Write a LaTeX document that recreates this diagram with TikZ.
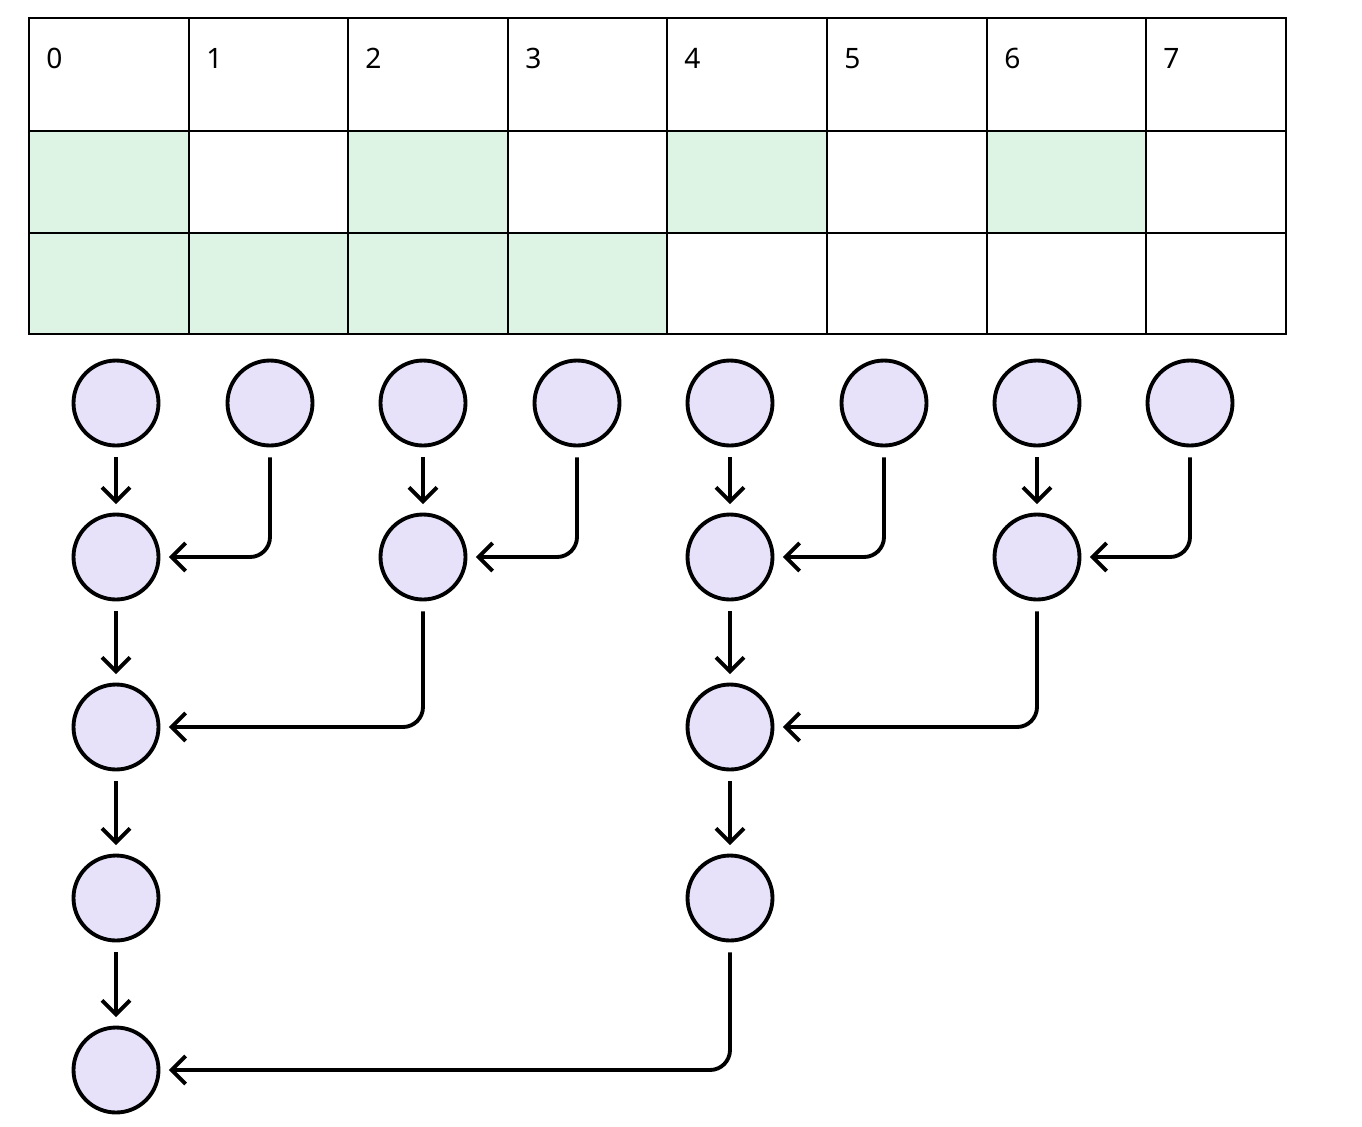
\documentclass[tikz,border=0pt]{standalone}
\usepackage{fontspec}
\setmainfont{Noto Sans}
\usetikzlibrary{arrows.meta}

\definecolor{cellgreen}{HTML}{DDF3E4}
\definecolor{nodepurple}{HTML}{E7E2FA}

\begin{document}
\begin{tikzpicture}[x=0.02cm,y=-0.02cm]
		\tikzstyle{vert}=[draw,shape=circle,fill=nodepurple,line width=2.2pt,minimum size=1.7cm,inner sep=0pt];
		\tikzstyle{link}=[line width=2.2pt,-{Straight Barb[length=0.28cm,width=0.56cm]},shorten <=0.2cm,shorten >=0.17cm,rounded corners=0.4cm];
		\tikzstyle{idx}=[anchor=base west,inner sep=0pt,font=\fontsize{16}{16}\selectfont];
		\useasboundingbox (0,0) rectangle (1362,1126);
		% occupied cells
		\foreach \xa/\xb in {29/189,348/508,667/827,987/1146}
			\fill[cellgreen] (\xa,131) rectangle (\xb,233);
		\fill[cellgreen] (29,233) rectangle (667,334);
		% table
		\draw[line width=1.3pt] (29,18) rectangle (1286,334);
		\draw[line width=1.3pt] (29,131) -- (1286,131)
		(29,233) -- (1286,233);
		\foreach \x in {189,348,508,667,827,987,1146}
			\draw[line width=1.3pt] (\x,18) -- (\x,334);
		\foreach \x/\n in {29/0,189/1,348/2,508/3,667/4,827/5,987/6,1146/7}
			\path (\x+17,68) node[idx] (l\n) {\n};
		% first level
		\path (116,403)  node[vert] (a1) {};
		\path (270,403)  node[vert] (a2) {};
		\path (423,403)  node[vert] (a3) {};
		\path (577,403)  node[vert] (a4) {};
		\path (730,403)  node[vert] (a5) {};
		\path (884,403)  node[vert] (a6) {};
		\path (1037,403) node[vert] (a7) {};
		\path (1190,403) node[vert] (a8) {};
		% merged levels
		\path (116,557)  node[vert] (b1) {};
		\path (423,557)  node[vert] (b3) {};
		\path (730,557)  node[vert] (b5) {};
		\path (1037,557) node[vert] (b7) {};
		\path (116,727)  node[vert] (c1) {};
		\path (730,727)  node[vert] (c5) {};
		\path (116,898)  node[vert] (d1) {};
		\path (730,898)  node[vert] (d5) {};
		\path (116,1070) node[vert] (e1) {};
		\draw[link] (a1) -- (b1);
		\draw[link] (a2) |- (b1);
		\draw[link] (a3) -- (b3);
		\draw[link] (a4) |- (b3);
		\draw[link] (a5) -- (b5);
		\draw[link] (a6) |- (b5);
		\draw[link] (a7) -- (b7);
		\draw[link] (a8) |- (b7);
		\draw[link] (b1) -- (c1);
		\draw[link] (b3) |- (c1);
		\draw[link] (b5) -- (c5);
		\draw[link] (b7) |- (c5);
		\draw[link] (c1) -- (d1);
		\draw[link] (c5) -- (d5);
		\draw[link] (d1) -- (e1);
		\draw[link] (d5) |- (e1);
\end{tikzpicture}
\end{document}
